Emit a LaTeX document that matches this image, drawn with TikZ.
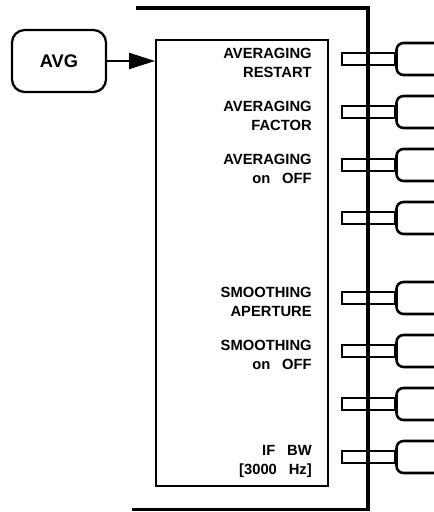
\documentclass[tikz,border=0pt]{standalone}
\usepackage{fontspec}
\setmainfont{Liberation Sans}
\usetikzlibrary{positioning, arrows.meta, calc}

\begin{document}
\begin{tikzpicture}[
        avgbox/.style={draw, line width=1.6pt, rounded corners=9pt, minimum width=2.35cm, minimum height=1.55cm,
                       font=\fontsize{13}{15}\selectfont\bfseries},
        menubox/.style={draw, line width=1.4pt, minimum width=4.3cm, minimum height=11.15cm},
        lbl/.style={anchor=east, align=right, inner sep=0pt, font=\fontsize{10.5}{13.5}\selectfont\bfseries},
        tab/.style={draw, line width=2.1pt, minimum width=1.325cm, minimum height=0.3cm, inner sep=0pt},
        keyline/.style={line width=1.8pt, rounded corners=5pt},
        bus/.style={line width=2.2pt},
        arr/.style={-{Triangle[length=0.65cm, width=0.4cm]}, line width=1.6pt}
    ]
    \useasboundingbox (0,0) rectangle (10.825,12.8);

    % Hardkey and menu panel
    \node[avgbox] (avg) at (1.475,11.275) {AVG};
    \node[menubox] (menu) at (6.05,6.225) {};
    \draw[arr] (avg.east) -- (avg.east -| menu.west);

    % Menu labels
    \node[lbl] (lbl1) at (7.8,11.225) {AVERAGING\\RESTART};
    \node[lbl] (lbl2) at (7.8,9.9)    {AVERAGING\\FACTOR};
    \node[lbl] (lbl3) at (7.8,8.575)  {AVERAGING\\on\hspace{0.8em}OFF};
    \node[lbl] (lbl5) at (7.8,5.25)   {SMOOTHING\\APERTURE};
    \node[lbl] (lbl6) at (7.8,3.925)  {SMOOTHING\\on\hspace{0.8em}OFF};
    \node[lbl] (lbl8) at (7.8,1.275)  {IF\hspace{0.8em}BW\\{[3000\hspace{0.8em}Hz]}};

    % Bus
    \coordinate (bustop) at (3.4,12.6);
    \coordinate (busbot) at (3.3,0.06);
    \coordinate (buscol) at (9.2,0);
    \draw[bus] (bustop) -| (buscol |- busbot) -- (busbot);

    % Softkeys
    \foreach \y [count=\i] in {11.325,10.0,8.675,7.35,5.35,4.025,2.7,1.375} {
        \node[tab] (tab\i) at (9.2125,\y) {};
        \draw[keyline] ([shift={(0.95,0.4)}]tab\i.east) -- ([shift={(0,0.4)}]tab\i.east)
            -- ([shift={(0,-0.4)}]tab\i.east) -- ([shift={(0.95,-0.4)}]tab\i.east);
    }
\end{tikzpicture}
\end{document}
